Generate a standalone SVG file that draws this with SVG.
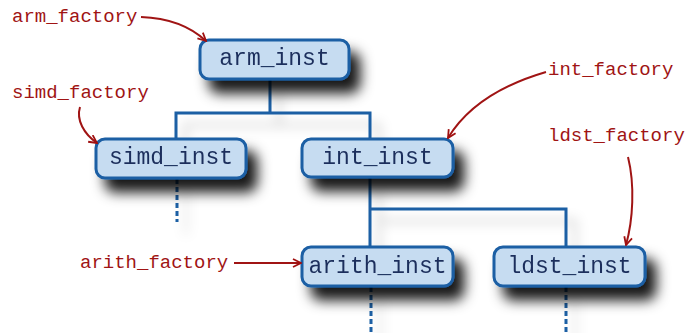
<svg xmlns="http://www.w3.org/2000/svg" width="686" height="333" viewBox="0 0 686 333">
  <defs>
    <filter id="shadow" x="-20%" y="-40%" width="160%" height="230%">
      <feDropShadow dx="10" dy="13" stdDeviation="6.5" flood-color="#000" flood-opacity="0.9"/>
    </filter>
    <filter id="lineShadow" x="-20%" y="-20%" width="150%" height="150%">
      <feDropShadow dx="9" dy="12" stdDeviation="6" flood-color="#000" flood-opacity="0.22"/>
    </filter>
    <marker id="arrow" viewBox="0 0 10 10" refX="9" refY="5" markerWidth="10" markerHeight="10" markerUnits="userSpaceOnUse" orient="auto">
      <path d="M1,1 L9,5 L1,9" fill="none" stroke="#a01010" stroke-width="1.8"/>
    </marker>
  </defs>
  <style>
    .box { fill: #c6dcf1; stroke: #1b5ea4; stroke-width: 3; }
    .name { font-family: "Liberation Mono", "Courier New", monospace; font-size: 23px; fill: #1c2f5c; text-anchor: middle; }
    .tree { fill: none; stroke: #1b5ea4; stroke-width: 3; }
    .dots { fill: none; stroke: #1b5ea4; stroke-width: 3; stroke-dasharray: 5 3; }
    .factory { font-family: "Liberation Mono", "Courier New", monospace; font-size: 19px; fill: #a01414; }
    .ptr { fill: none; stroke: #a01414; stroke-width: 2; marker-end: url(#arrow); }
  </style>

  <rect width="686" height="333" fill="#fff"/>

  <!-- tree connectors -->
  <g id="connectors" filter="url(#lineShadow)">
    <path class="tree" d="M270,79 V113 M176,139 V113 H370 V139"/>
    <path class="tree" d="M370,177 V247 M370,209 H566 V247"/>
    <path class="dots" d="M177,179 V222"/>
    <path class="dots" d="M371,287 V333"/>
    <path class="dots" d="M566,287 V333"/>
  </g>

  <!-- nodes -->
  <g id="arm_inst" filter="url(#shadow)">
    <rect class="box" x="200" y="40" width="149" height="39" rx="9"/>
    <text class="name" x="274.5" y="65">arm_inst</text>
  </g>
  <g id="simd_inst" filter="url(#shadow)">
    <rect class="box" x="96" y="139" width="150" height="39" rx="9"/>
    <text class="name" x="171" y="164">simd_inst</text>
  </g>
  <g id="int_inst" filter="url(#shadow)">
    <rect class="box" x="302" y="139" width="151" height="38" rx="9"/>
    <text class="name" x="377.5" y="164">int_inst</text>
  </g>
  <g id="arith_inst" filter="url(#shadow)">
    <rect class="box" x="302" y="247" width="151" height="39" rx="9"/>
    <text class="name" x="377.5" y="273">arith_inst</text>
  </g>
  <g id="ldst_inst" filter="url(#shadow)">
    <rect class="box" x="494" y="247" width="151" height="39" rx="9"/>
    <text class="name" x="569.5" y="273">ldst_inst</text>
  </g>

  <!-- factory labels and pointers -->
  <g id="arm_factory">
    <text class="factory" x="12" y="22">arm_factory</text>
    <path class="ptr" d="M141,17 C170,18 192,28 206,41"/>
  </g>
  <g id="simd_factory">
    <text class="factory" x="12" y="98">simd_factory</text>
    <path class="ptr" d="M80,107 C76,120 84,134 97,143"/>
  </g>
  <g id="int_factory">
    <text class="factory" x="548" y="75">int_factory</text>
    <path class="ptr" d="M546,72 C505,84 468,105 448,138"/>
  </g>
  <g id="ldst_factory">
    <text class="factory" x="548" y="141">ldst_factory</text>
    <path class="ptr" d="M628,157 C635,185 633,220 626,245"/>
  </g>
  <g id="arith_factory">
    <text class="factory" x="80" y="268">arith_factory</text>
    <path class="ptr" d="M234,263 H301"/>
  </g>
</svg>
